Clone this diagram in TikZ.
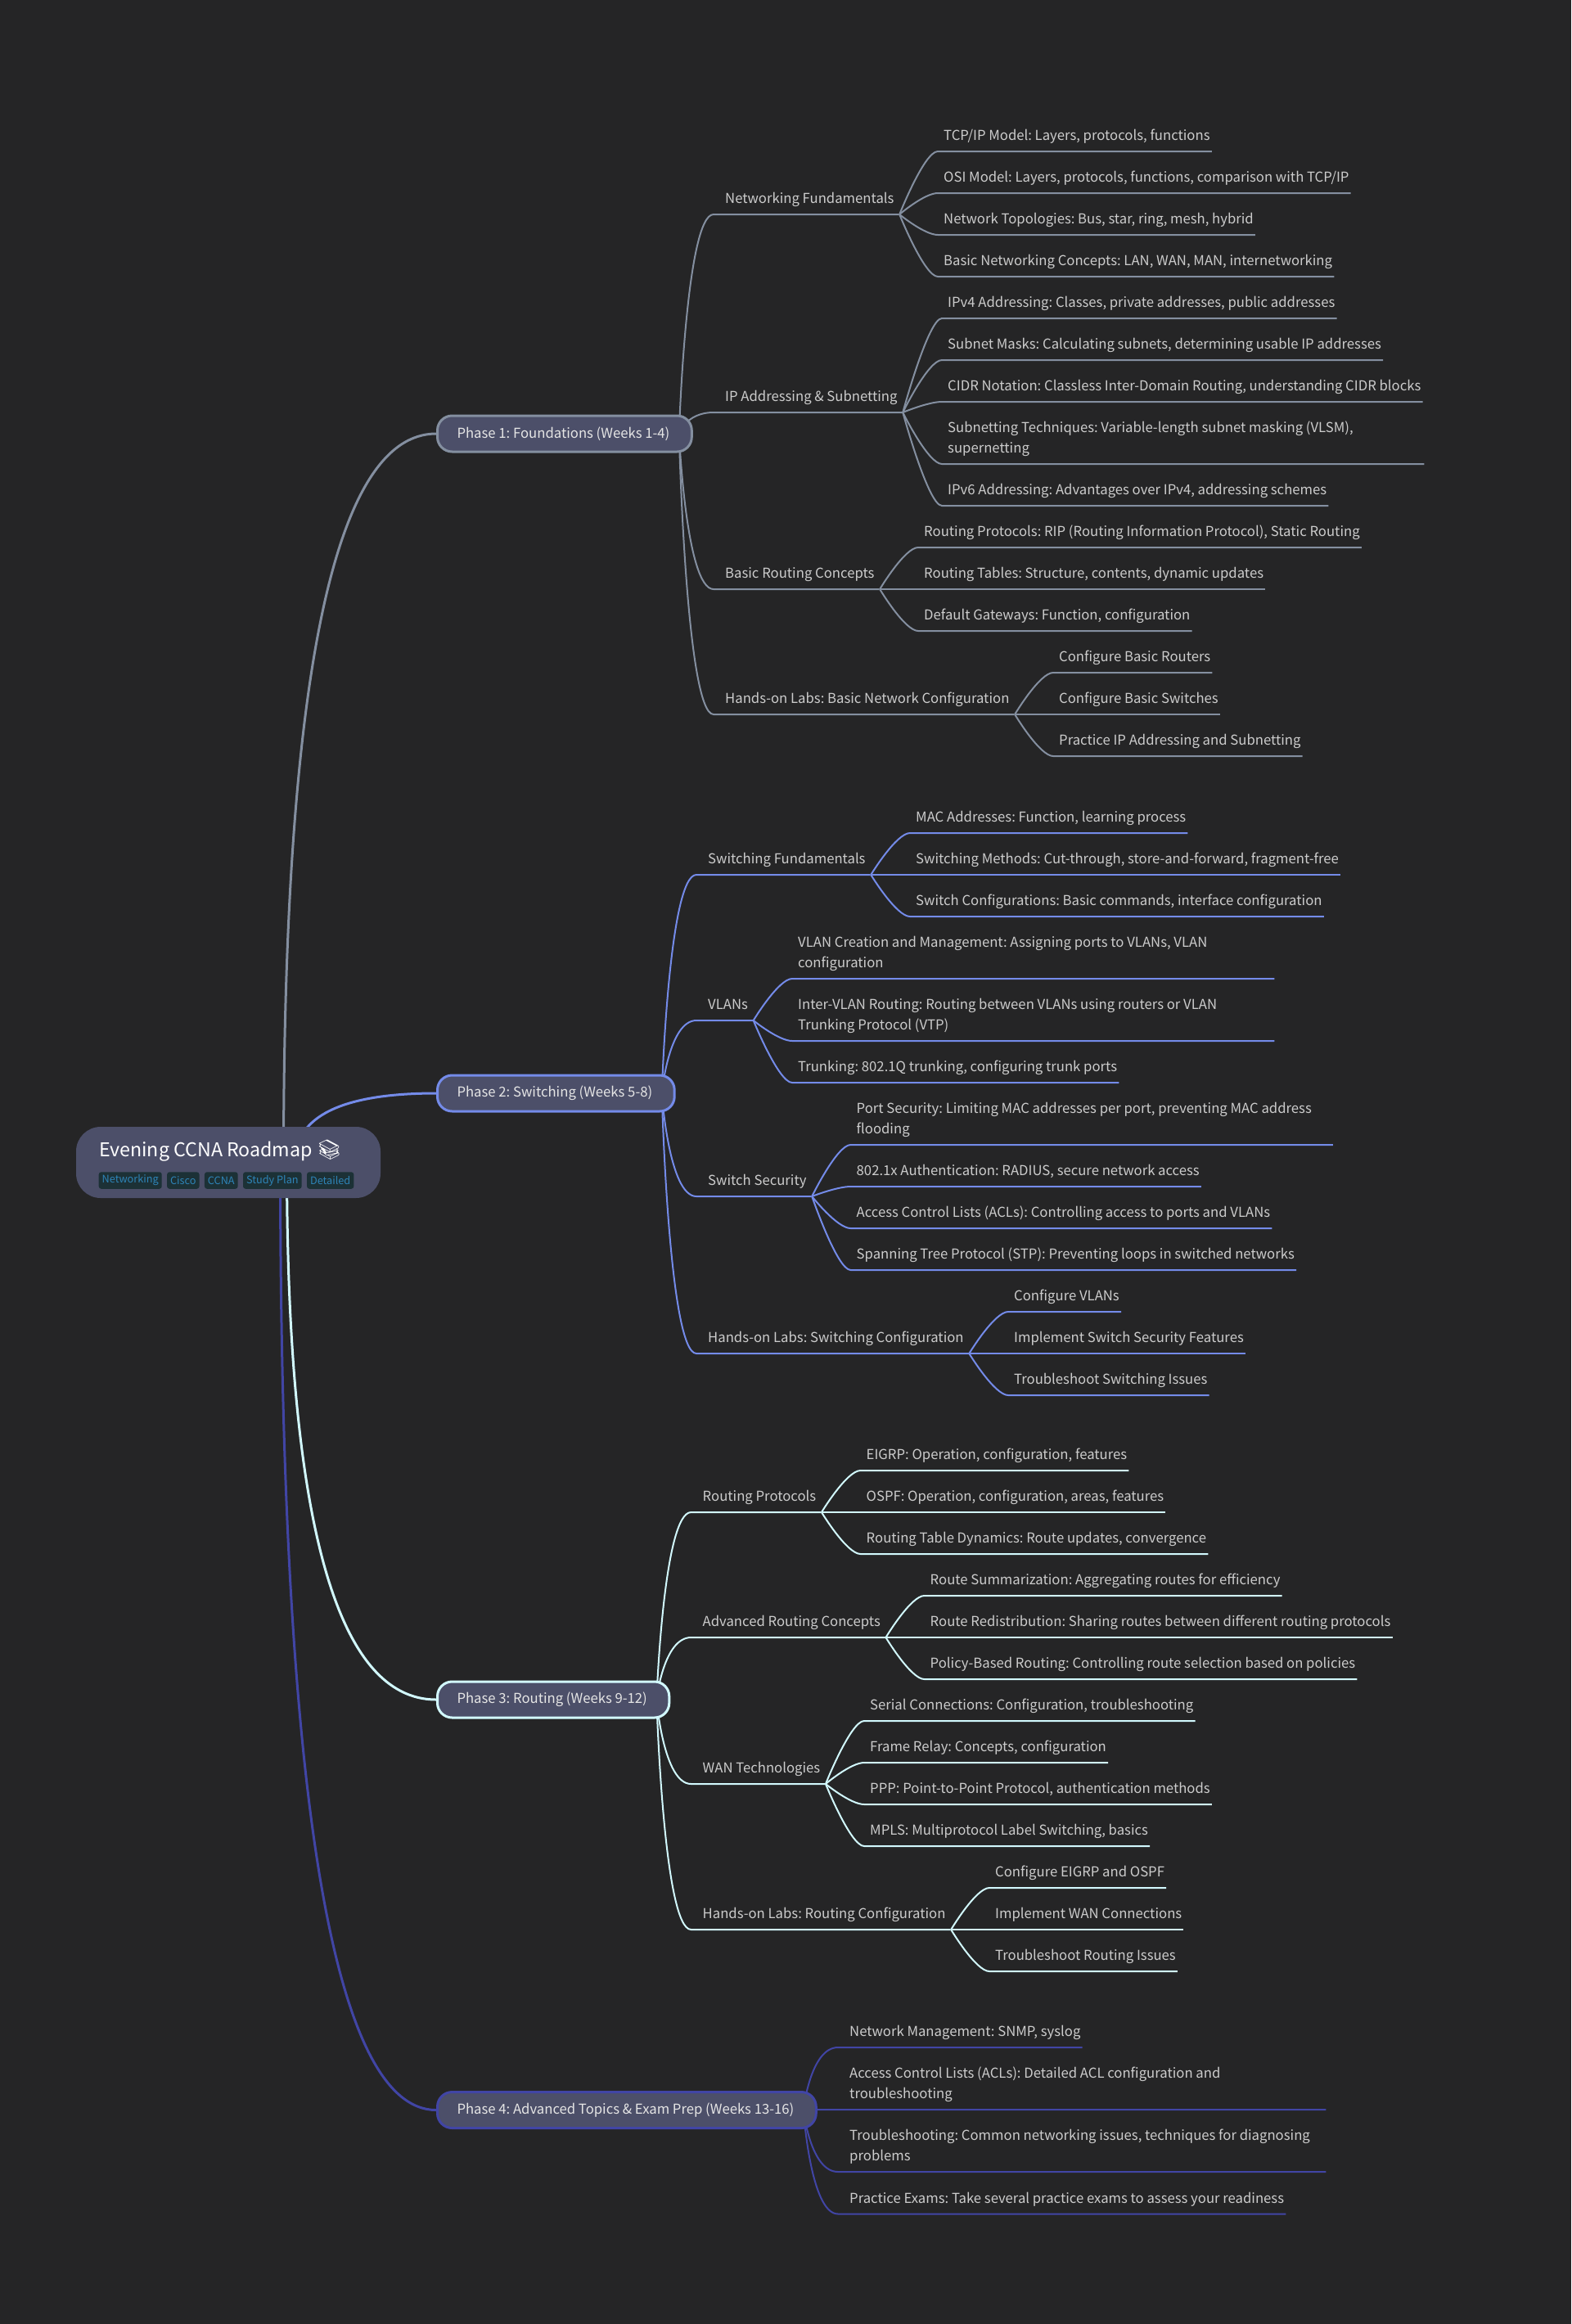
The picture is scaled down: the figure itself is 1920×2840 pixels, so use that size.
\documentclass[tikz,border=0pt]{standalone}
\usepackage{fontspec}
\setmainfont{Noto Sans CJK SC}
\newfontfamily\emojifont{Noto Emoji}
\usetikzlibrary{calc,positioning,backgrounds}
\definecolor{canvas}{HTML}{252526}
\definecolor{boxfill}{HTML}{4C4F69}
\definecolor{topic}{HTML}{CCCCCC}
\definecolor{phaseA}{HTML}{848FA0}
\definecolor{phaseB}{HTML}{748BE9}
\definecolor{phaseC}{HTML}{D2F9FE}
\definecolor{phaseD}{HTML}{4145A5}
\definecolor{tagfill}{HTML}{1C3136}
\definecolor{tagtext}{HTML}{2E84B8}
\frenchspacing
\tikzset{
  rootbox/.style={fill=boxfill, rounded corners=30pt, minimum width=372pt, minimum height=87pt, inner sep=0},
  title/.style={text=white, font=\fontsize{23.2}{28}\selectfont, inner sep=0, anchor=base west},
  tag/.style={fill=tagfill, text=tagtext, rounded corners=3pt, font=\fontsize{12.7}{15}\selectfont,
    inner xsep=4pt, inner ysep=0, minimum height=20.5pt},
  phase/.style={fill=boxfill, text=white!90!black, rounded corners=18pt, line width=3pt, anchor=west,
    inner xsep=24pt, inner ysep=0, minimum height=44pt, font=\fontsize{16.7}{25}\selectfont,
    execute at end node={\hspace{3pt}}},
  leaf/.style={text=topic, inner sep=0, anchor=south west, font=\fontsize{16.7}{25}\selectfont,
    execute at end node={\rule[-13pt]{0pt}{13pt}}},
  wrapleaf/.style={leaf, text width=580pt, align=flush left},
  mainline/.style={line width=3pt},
  subline/.style={line width=2pt},
}
% root to phase
\newcommand{\mainlink}[3]{
  \begin{scope}[on background layer]
    \draw[mainline, #1] (#2) .. controls ($(#2)!0.667!(#2 |- #3.west)$) and ($(#3.west)!0.667!(#2 |- #3.west)$) .. (#3.west);
  \end{scope}
}
% phase to topic
\newcommand{\phaselink}[4][6pt]{
  \begin{scope}[on background layer]
    \coordinate (from) at ([xshift=-17pt]#3.east);
    \coordinate (to) at ([xshift=-14pt]#4.south west);
    \draw[subline, #2] (from) .. controls (from) and ($(to)!0.8!(from |- to)$) .. (to) -- ([xshift=#1]#4.south east);
  \end{scope}
}
% topic to leaf
\newcommand{\leaflink}[3]{
  \coordinate (from) at ([xshift=6.5pt]#2.south east);
  \coordinate (to) at ([xshift=-7pt]#3.south west);
  \draw[subline, #1] (from) .. controls (from) and ($(to)!0.35!(from |- to)$) .. (to) -- ([xshift=2pt]#3.south east);
}
\begin{document}
\begin{tikzpicture}[x=1pt, y=-1pt]
\useasboundingbox (0,0) rectangle (1920,2840);
\begin{scope}[on background layer]
  \fill[canvas] (0,0) rectangle (1920,2840);
\end{scope}

% root
\node[rootbox] (root) at (279,1420.5) {};
\node[title] (roottitle) at (121,1413) {Evening CCNA Roadmap {\emojifont\fontsize{24}{24}\selectfont 📚}};
\node[tag, anchor=west] (tagnet) at (120.5,1442.5) {Networking};
\node[tag, right=6pt of tagnet] (tagcisco) {Cisco};
\node[tag, right=6pt of tagcisco] (tagccna) {CCNA};
\node[tag, right=6pt of tagccna] (tagstudy) {Study Plan};
\node[tag, right=6pt of tagstudy] (tagdetail) {Detailed};

% phases
\node[phase, draw=phaseA] (found) at (533,530) {Phase 1: Foundations (Weeks 1-4)};
\node[phase, draw=phaseB] (switch) at (533,1336) {Phase 2: Switching (Weeks 5-8)};
\node[phase, draw=phaseC] (route) at (533,2077) {Phase 3: Routing (Weeks 9-12)};
\node[phase, draw=phaseD] (exam) at (533,2578.5) {Phase 4: Advanced Topics \& Exam Prep (Weeks 13-16)};
\coordinate (foundroot) at (346.5,1420);
\coordinate (switchroot) at (360.5,1420);
\coordinate (routeroot) at (350.5,1420);
\coordinate (examroot) at (342.5,1420);
\mainlink{phaseA}{foundroot}{found}
\mainlink{phaseB}{switchroot}{switch}
\mainlink{phaseC}{routeroot}{route}
\mainlink{phaseD}{examroot}{exam}

% phase 1
\node[leaf] (netfund) at (886,262) {Networking Fundamentals};
\node[leaf] (ipaddr) at (886,504) {IP Addressing \& Subnetting};
\node[leaf] (basicrt) at (886,720) {Basic Routing Concepts};
\node[leaf] (labsone) at (886,873) {Hands-on Labs: Basic Network Configuration};
\phaselink{phaseA}{found}{netfund}
\phaselink{phaseA}{found}{ipaddr}
\phaselink{phaseA}{found}{basicrt}
\phaselink{phaseA}{found}{labsone}

\node[leaf] (tcpip) at (1153,185) {TCP/IP Model: Layers, protocols, functions};
\node[leaf] (osi) at (1153,236) {OSI Model: Layers, protocols, functions, comparison with TCP/IP};
\node[leaf] (topo) at (1153,287) {Network Topologies: Bus, star, ring, mesh, hybrid};
\node[leaf] (basicnet) at (1153,338) {Basic Networking Concepts: LAN, WAN, MAN, internetworking};
\leaflink{phaseA}{netfund}{tcpip}
\leaflink{phaseA}{netfund}{osi}
\leaflink{phaseA}{netfund}{topo}
\leaflink{phaseA}{netfund}{basicnet}

\node[leaf] (ipfour) at (1158,389) {IPv4 Addressing: Classes, private addresses, public addresses};
\node[leaf] (masks) at (1158,440) {Subnet Masks: Calculating subnets, determining usable IP addresses};
\node[leaf] (cidr) at (1158,491) {CIDR Notation: Classless Inter-Domain Routing, understanding CIDR blocks};
\node[wrapleaf] (vlsm) at (1158,567) {Subnetting Techniques: Variable-length subnet masking (VLSM),\\supernetting};
\node[leaf] (ipsix) at (1158,618) {IPv6 Addressing: Advantages over IPv4, addressing schemes};
\leaflink{phaseA}{ipaddr}{ipfour}
\leaflink{phaseA}{ipaddr}{masks}
\leaflink{phaseA}{ipaddr}{cidr}
\leaflink{phaseA}{ipaddr}{vlsm}
\leaflink{phaseA}{ipaddr}{ipsix}

\node[leaf] (rip) at (1129,669) {Routing Protocols: RIP (Routing Information Protocol), Static Routing};
\node[leaf] (tables) at (1129,720) {Routing Tables: Structure, contents, dynamic updates};
\node[leaf] (gateways) at (1129,771) {Default Gateways: Function, configuration};
\leaflink{phaseA}{basicrt}{rip}
\leaflink{phaseA}{basicrt}{tables}
\leaflink{phaseA}{basicrt}{gateways}

\node[leaf] (cfgrouters) at (1294,822) {Configure Basic Routers};
\node[leaf] (cfgswitches) at (1294,873) {Configure Basic Switches};
\node[leaf] (practiceip) at (1294,924) {Practice IP Addressing and Subnetting};
\leaflink{phaseA}{labsone}{cfgrouters}
\leaflink{phaseA}{labsone}{cfgswitches}
\leaflink{phaseA}{labsone}{practiceip}

% phase 2
\node[leaf] (swfund) at (865,1069) {Switching Fundamentals};
\node[leaf] (vlans) at (865,1247) {VLANs};
\node[leaf] (swsec) at (865,1462) {Switch Security};
\node[leaf] (labstwo) at (865,1654) {Hands-on Labs: Switching Configuration};
\phaselink{phaseB}{switch}{swfund}
\phaselink{phaseB}{switch}{vlans}
\phaselink{phaseB}{switch}{swsec}
\phaselink{phaseB}{switch}{labstwo}

\node[leaf] (mac) at (1119,1018) {MAC Addresses: Function, learning process};
\node[leaf] (methods) at (1119,1069) {Switching Methods: Cut-through, store-and-forward, fragment-free};
\node[leaf] (swconf) at (1119,1120) {Switch Configurations: Basic commands, interface configuration};
\leaflink{phaseB}{swfund}{mac}
\leaflink{phaseB}{swfund}{methods}
\leaflink{phaseB}{swfund}{swconf}

\node[wrapleaf] (vlancreate) at (975,1196) {VLAN Creation and Management: Assigning ports to VLANs, VLAN\\configuration};
\node[wrapleaf] (intervlan) at (975,1272) {Inter-VLAN Routing: Routing between VLANs using routers or VLAN\\Trunking Protocol (VTP)};
\node[leaf] (trunking) at (975,1323) {Trunking: 802.1Q trunking, configuring trunk ports};
\leaflink{phaseB}{vlans}{vlancreate}
\leaflink{phaseB}{vlans}{intervlan}
\leaflink{phaseB}{vlans}{trunking}

\node[wrapleaf] (portsec) at (1046.5,1399) {Port Security: Limiting MAC addresses per port, preventing MAC address\\flooding};
\node[leaf] (dotone) at (1046.5,1450) {802.1x Authentication: RADIUS, secure network access};
\node[leaf] (aclsw) at (1046.5,1501) {Access Control Lists (ACLs): Controlling access to ports and VLANs};
\node[leaf] (stp) at (1046.5,1552) {Spanning Tree Protocol (STP): Preventing loops in switched networks};
\leaflink{phaseB}{swsec}{portsec}
\leaflink{phaseB}{swsec}{dotone}
\leaflink{phaseB}{swsec}{aclsw}
\leaflink{phaseB}{swsec}{stp}

\node[leaf] (cfgvlans) at (1239,1603) {Configure VLANs};
\node[leaf] (implsec) at (1239,1654) {Implement Switch Security Features};
\node[leaf] (trbsw) at (1239,1705) {Troubleshoot Switching Issues};
\leaflink{phaseB}{labstwo}{cfgvlans}
\leaflink{phaseB}{labstwo}{implsec}
\leaflink{phaseB}{labstwo}{trbsw}

% phase 3
\node[leaf] (rtproto) at (858.5,1848) {Routing Protocols};
\node[leaf] (advrt) at (858.5,2001) {Advanced Routing Concepts};
\node[leaf] (wan) at (858.5,2180) {WAN Technologies};
\node[leaf] (labsthree) at (858.5,2358) {Hands-on Labs: Routing Configuration};
\phaselink{phaseC}{route}{rtproto}
\phaselink{phaseC}{route}{advrt}
\phaselink{phaseC}{route}{wan}
\phaselink{phaseC}{route}{labsthree}

\node[leaf] (eigrp) at (1058.5,1797) {EIGRP: Operation, configuration, features};
\node[leaf] (ospf) at (1058.5,1848) {OSPF: Operation, configuration, areas, features};
\node[leaf] (dynamics) at (1058.5,1899) {Routing Table Dynamics: Route updates, convergence};
\leaflink{phaseC}{rtproto}{eigrp}
\leaflink{phaseC}{rtproto}{ospf}
\leaflink{phaseC}{rtproto}{dynamics}

\node[leaf] (summ) at (1136.5,1950) {Route Summarization: Aggregating routes for efficiency};
\node[leaf] (redist) at (1136.5,2001) {Route Redistribution: Sharing routes between different routing protocols};
\node[leaf] (policy) at (1136.5,2052) {Policy-Based Routing: Controlling route selection based on policies};
\leaflink{phaseC}{advrt}{summ}
\leaflink{phaseC}{advrt}{redist}
\leaflink{phaseC}{advrt}{policy}

\node[leaf] (serial) at (1063,2103) {Serial Connections: Configuration, troubleshooting};
\node[leaf] (frame) at (1063,2154) {Frame Relay: Concepts, configuration};
\node[leaf] (ppp) at (1063,2205) {PPP: Point-to-Point Protocol, authentication methods};
\node[leaf] (mpls) at (1063,2256) {MPLS: Multiprotocol Label Switching, basics};
\leaflink{phaseC}{wan}{serial}
\leaflink{phaseC}{wan}{frame}
\leaflink{phaseC}{wan}{ppp}
\leaflink{phaseC}{wan}{mpls}

\node[leaf] (cfgeigrp) at (1216,2307) {Configure EIGRP and OSPF};
\node[leaf] (implwan) at (1216,2358) {Implement WAN Connections};
\node[leaf] (trbrt) at (1216,2409) {Troubleshoot Routing Issues};
\leaflink{phaseC}{labsthree}{cfgeigrp}
\leaflink{phaseC}{labsthree}{implwan}
\leaflink{phaseC}{labsthree}{trbrt}

% phase 4
\node[leaf] (netmgmt) at (1038,2502) {Network Management: SNMP, syslog};
\node[wrapleaf] (acldetail) at (1038,2578) {Access Control Lists (ACLs): Detailed ACL configuration and\\troubleshooting};
\node[wrapleaf] (trbcommon) at (1038,2654) {Troubleshooting: Common networking issues, techniques for diagnosing\\problems};
\node[leaf] (practice) at (1038,2705.5) {Practice Exams: Take several practice exams to assess your readiness};
\phaselink[2pt]{phaseD}{exam}{netmgmt}
\phaselink[2pt]{phaseD}{exam}{acldetail}
\phaselink[2pt]{phaseD}{exam}{trbcommon}
\phaselink[2pt]{phaseD}{exam}{practice}
\end{tikzpicture}
\end{document}
